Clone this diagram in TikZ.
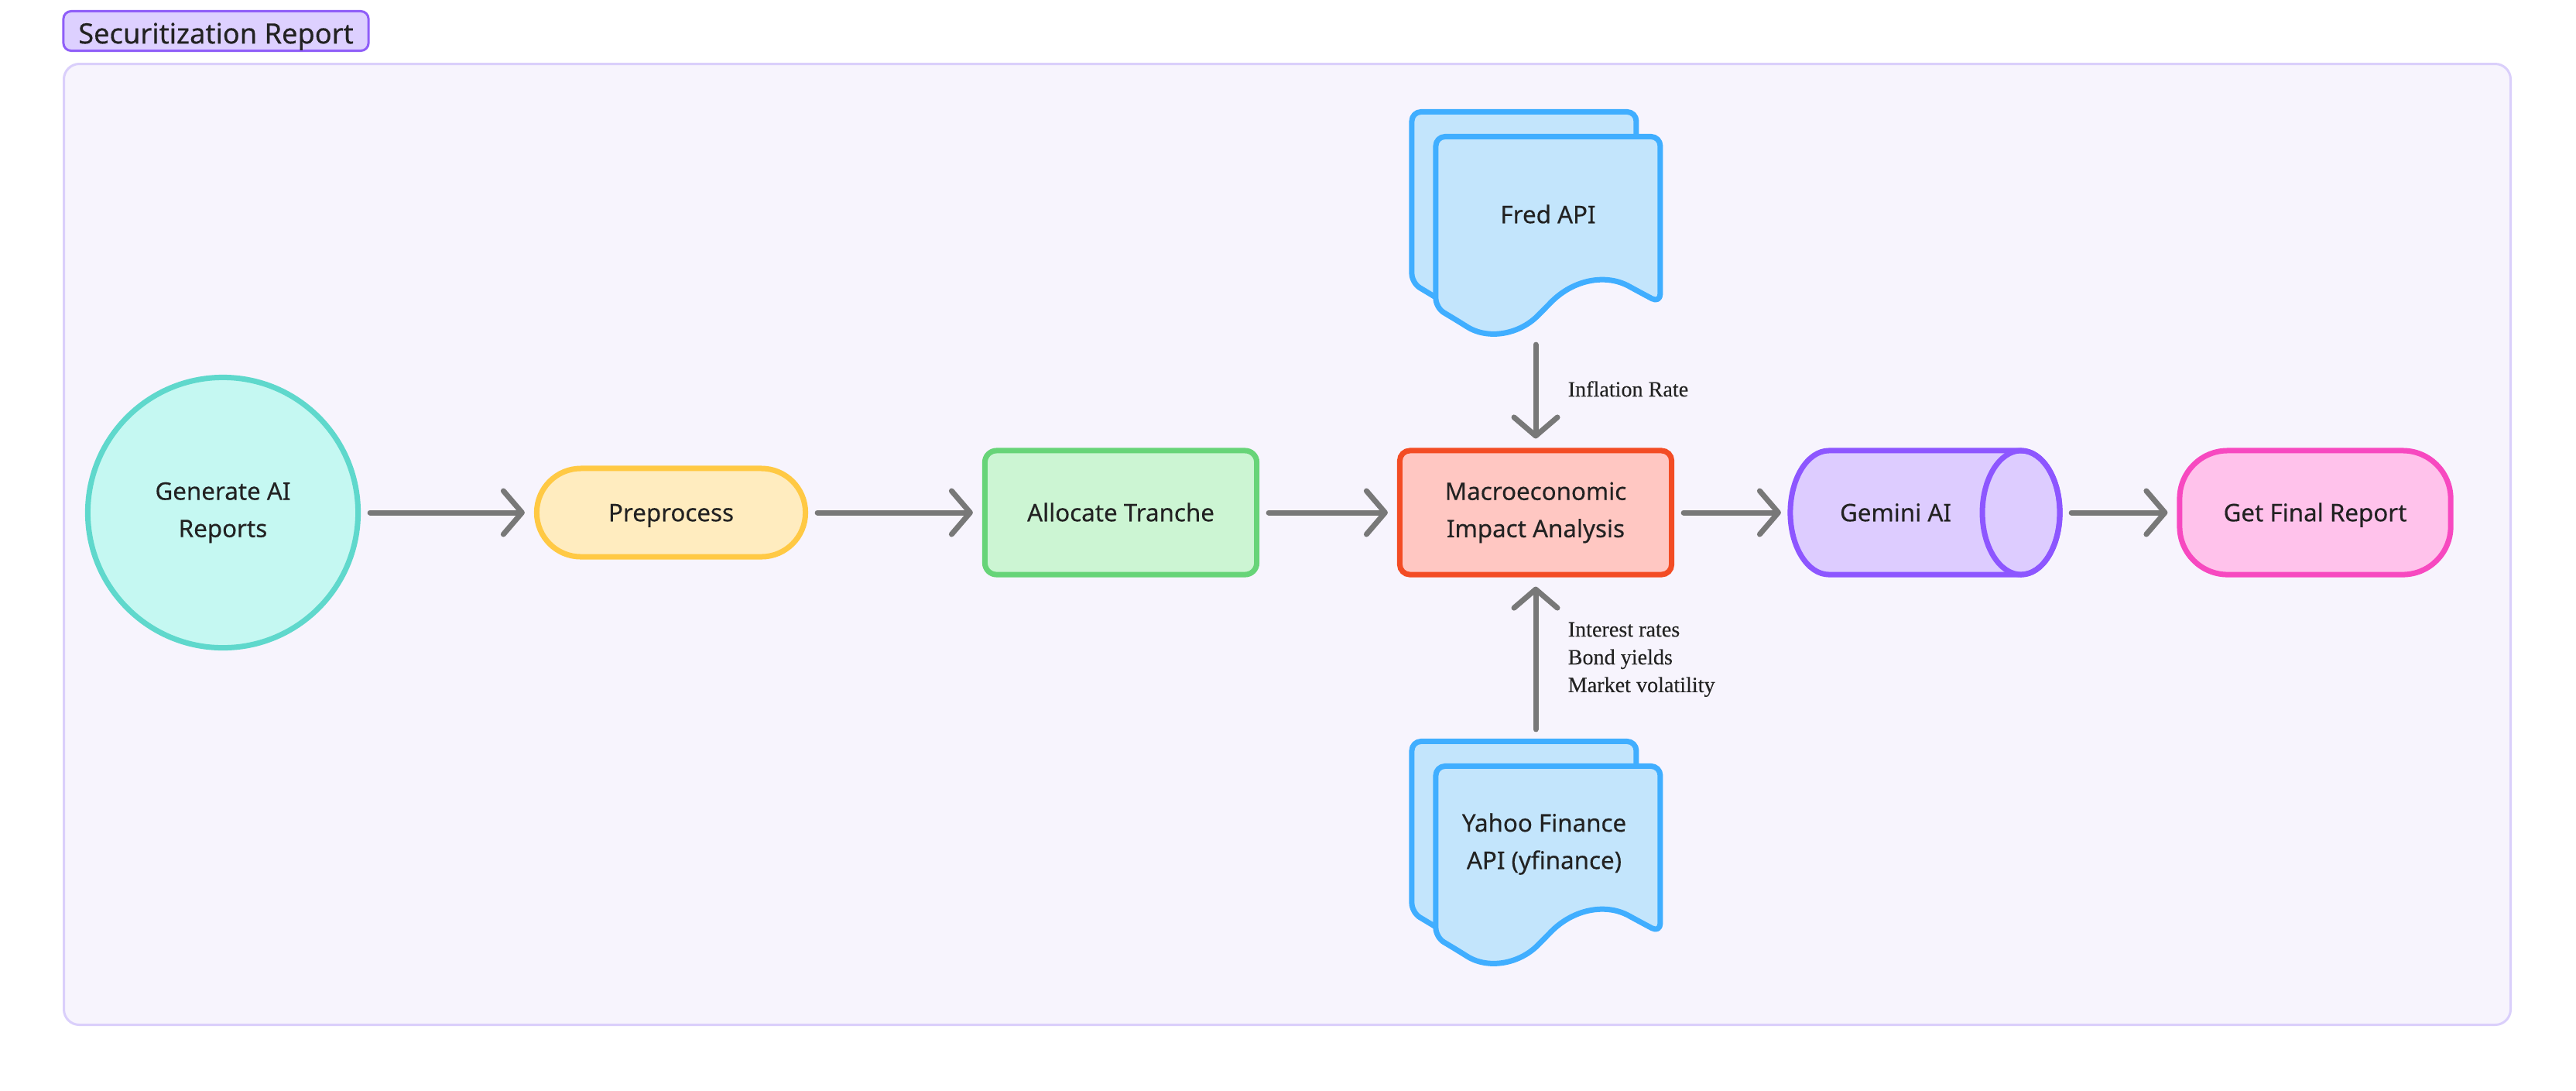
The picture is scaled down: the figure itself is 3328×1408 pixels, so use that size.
\documentclass[tikz,border=0pt]{standalone}
\usepackage{fontspec}
\setmainfont{Noto Sans}[FakeBold=0.35]
\newfontfamily\labelfont{Liberation Serif}[FakeBold=0.2]
\usepackage{xcolor}
\usetikzlibrary{arrows.meta, shapes.geometric, positioning}

\definecolor{ink}{HTML}{222222}
\definecolor{arrowgray}{HTML}{787878}
\definecolor{framefill}{HTML}{F7F4FD}
\definecolor{frameline}{HTML}{DACFFB}
\definecolor{titlefill}{HTML}{DDD0FF}
\definecolor{titleline}{HTML}{8F5EF8}
\definecolor{genfill}{HTML}{C5F8F2}
\definecolor{genline}{HTML}{5FD8CC}
\definecolor{prefill}{HTML}{FFECBF}
\definecolor{preline}{HTML}{FFC944}
\definecolor{allocfill}{HTML}{CCF5D3}
\definecolor{allocline}{HTML}{67D478}
\definecolor{macrofill}{HTML}{FFC7C2}
\definecolor{macroline}{HTML}{F34C24}
\definecolor{docfill}{HTML}{C3E5FC}
\definecolor{docline}{HTML}{40AEFF}
\definecolor{geminifill}{HTML}{DDCCFF}
\definecolor{geminiline}{HTML}{8D56FF}
\definecolor{finalfill}{HTML}{FFC2EB}
\definecolor{finalline}{HTML}{F749C0}

\begin{document}
\begin{tikzpicture}[x=0.01cm, y=-0.01cm,
				>={Straight Barb[length=0.24cm 0 0, width=0.56cm 0 0, round]},
				box/.style={draw, line width=0.07cm, align=center, text=ink, inner sep=0pt,
					font=\fontsize{8.9}{13.7}\selectfont},
				oneline/.style={text height=6.4pt, text depth=0pt},
				flow/.style={->, draw=arrowgray, line width=0.07cm, line cap=round,
					shorten >=0.12cm, shorten <=0.12cm},
				flowlabel/.style={text=ink, inner sep=0pt, align=left,
					font=\labelfont\fontsize{8}{10.2}\selectfont},
				docpage/.style={draw=docline, fill=docfill, line width=0.07cm,
					rounded corners=0.12cm, line join=round}]
				\path[use as bounding box, fill=white] (0,0) rectangle (3328,1408);
				\draw[draw=frameline, fill=framefill, line width=0.03cm, rounded corners=0.2cm] (82.5,82.5) rectangle (3243.5,1323.5);
				\node at (279,40) (title) [box, draw=titleline, fill=titlefill, line width=0.03cm, rounded corners=0.1cm, minimum width=3.94cm, minimum height=0.51cm, text height=9.2pt, text depth=0pt, font=\fontsize{10.3}{13}\selectfont] {Securitization Report};

				\node at (2000,303) (fred) [minimum width=2.9cm, minimum height=2.53cm, outer sep=0pt] {};
				\node at (2000,1116) (yahoo) [minimum width=2.9cm, minimum height=2.53cm, outer sep=0pt] {};
				\begin{scope}[shift={(fred.north west)}]
					\draw[docpage, shift={(-31,-32)}] (0,221) -- (0,0) -- (290,0) -- (290,215) -- (260,199) .. controls (220,177) and (178,184) .. (140,223) .. controls (108,255) and (68,263) .. (30,239) -- cycle;
					\draw[docpage] (0,221) -- (0,0) -- (290,0) -- (290,215) -- (260,199) .. controls (220,177) and (178,184) .. (140,223) .. controls (108,255) and (68,263) .. (30,239) -- cycle;
				\end{scope}
				\begin{scope}[shift={(yahoo.north west)}]
					\draw[docpage, shift={(-31,-32)}] (0,221) -- (0,0) -- (290,0) -- (290,215) -- (260,199) .. controls (220,177) and (178,184) .. (140,223) .. controls (108,255) and (68,263) .. (30,239) -- cycle;
					\draw[docpage] (0,221) -- (0,0) -- (290,0) -- (290,215) -- (260,199) .. controls (220,177) and (178,184) .. (140,223) .. controls (108,255) and (68,263) .. (30,239) -- cycle;
				\end{scope}
				\node at (2000,277) (fredtext) [box, oneline, draw=none] {Fred API};
				\node at (1995,1090) (yahootext) [box, draw=none] {Yahoo Finance\\API (yfinance)};

				\node at (2487,662) (gemini) [minimum width=3.48cm, minimum height=1.6cm, outer sep=0pt] {};
				\draw[draw=geminiline, fill=geminifill, line width=0.07cm] ([xshift=0.5cm]gemini.north west) -- ([xshift=-0.5cm]gemini.north east) arc[start angle=90, end angle=-90, x radius=0.5cm, y radius=0.8cm] -- ([xshift=0.5cm]gemini.south west) arc[start angle=270, end angle=90, x radius=0.5cm, y radius=0.8cm] -- cycle;
				\draw[draw=geminiline, line width=0.07cm] ([xshift=-0.5cm]gemini.east) ellipse [x radius=0.5cm, y radius=0.8cm];
				\node at (2449,662) (geminitext) [box, oneline, draw=none] {Gemini AI};

				\node at (288,662) (gen) [box, circle, draw=genline, fill=genfill, minimum size=3.49cm] {Generate AI\\Reports};
				\node at (867,662) (pre) [box, oneline, draw=preline, fill=prefill, rounded corners=0.57cm, minimum width=3.47cm, minimum height=1.14cm] {Preprocess};
				\node at (1448,662) (alloc) [box, oneline, draw=allocline, fill=allocfill, rounded corners=0.15cm, minimum width=3.51cm, minimum height=1.6cm] {Allocate Tranche};
				\node at (1984,662) (macro) [box, draw=macroline, fill=macrofill, rounded corners=0.13cm, minimum width=3.51cm, minimum height=1.6cm] {Macroeconomic\\Impact Analysis};
				\node at (2991,662) (final) [box, oneline, draw=finalline, fill=finalfill, rounded corners=0.62cm, minimum width=3.5cm, minimum height=1.6cm] {Get Final Report};

				\draw[flow] (gen) -- (pre);
				\draw[flow] (pre) -- (alloc);
				\draw[flow] (alloc) -- (macro);
				\draw[flow] (macro) -- (gemini);
				\draw[flow, shorten <=0.15cm] (gemini) -- (final);
				\coordinate (yahootop) at ([yshift=0.355cm]yahoo.north);
				\draw[flow, shorten <=0.155cm] (macro.north |- fred.south) -- (macro.north);
				\draw[flow] (macro.south |- yahootop) -- (macro.south);

				\node at (2025,512) (fredlabel) [flowlabel, anchor=base west] {Inflation Rate};
				\node at (2025,803) (yahoolabel) [flowlabel, anchor=north west] {Interest rates\\Bond yields\\Market volatility};
\end{tikzpicture}
\end{document}
